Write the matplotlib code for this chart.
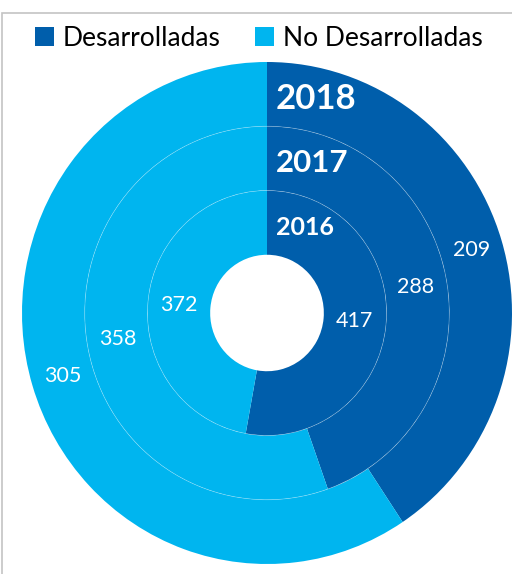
import matplotlib
matplotlib.use("Agg")
import matplotlib.pyplot as plt
from matplotlib.patches import Patch, Circle, Rectangle

categories = ["Desarrolladas", "No Desarrolladas"]
years = ["2018", "2017", "2016"]
values_2018 = [209, 305]
values_2017 = [288, 358]
values_2016 = [417, 372]

colors = ["#005EAB", "#00B5EF"]

plt.rcParams['font.family'] = ['Lato', 'DejaVu Sans']

fig = plt.figure(figsize=(5.12, 5.74), dpi=100)
fig.patch.set_facecolor("white")

# border (left and top visible)
fig.patches.append(Rectangle((1.5 / 512, -0.05), 1.2, (574 - 13) / 574 + 0.05,
                             transform=fig.transFigure, fill=False,
                             ec="#C4C4C4", lw=1.2, zorder=0))

ax = fig.add_axes([22 / 512, 10 / 574, 490 / 512, 502 / 574])

width = 0.256
radii = [1.0, 0.744, 0.488]
series = [values_2018, values_2017, values_2016]
year_sizes = [25, 22.5, 18]

for r, vals, yr, ys in zip(radii, series, years, year_sizes):
    mid = r - width / 2
    wedges, texts = ax.pie(vals, radius=r, colors=colors, startangle=90,
                           counterclock=False,
                           labels=[str(v) for v in vals],
                           labeldistance=mid / r,
                           wedgeprops=dict(width=width, edgecolor="none"),
                           textprops=dict(color="white", fontsize=15.5))
    for t in texts:
        t.set_horizontalalignment("center")
        t.set_verticalalignment("center")
    ax.text(0.035, mid - 0.018, yr, color="white", fontsize=ys, fontweight="bold",
            ha="left", va="center")

for r in radii[1:]:
    ax.add_patch(Circle((0, 0), r, fill=False, ec="white", lw=0.5, alpha=0.35))

ax.set_aspect("auto")
ax.set_xlim(-1, 1)
ax.set_ylim(-1, 1)
ax.axis("off")

handles = [Patch(facecolor=c, edgecolor="none") for c in colors]
fig.legend(handles, categories, loc="center", bbox_to_anchor=(259 / 512, 1 - 38 / 574),
           ncol=2, frameon=False, fontsize=19, handlelength=0.7, handleheight=0.7,
           handletextpad=0.35, columnspacing=1.3, borderaxespad=0)

fig.savefig("out.png", dpi=100, facecolor="white")
